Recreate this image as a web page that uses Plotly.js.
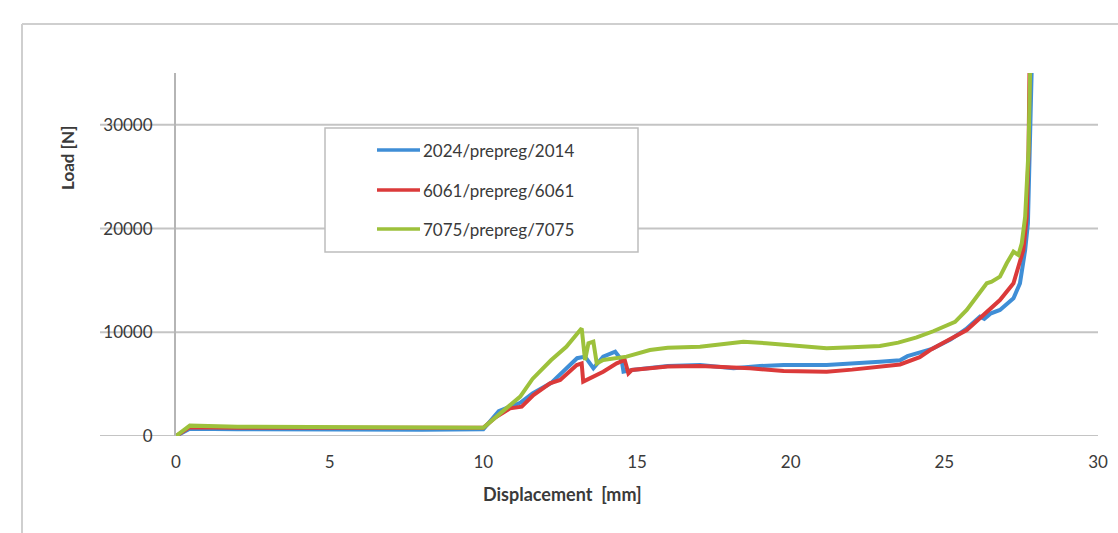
<!DOCTYPE html>
<html>
<head>
<meta charset="utf-8">
<script src="https://cdn.plot.ly/plotly-3.0.1.min.js"></script>
<style>html,body{margin:0;padding:0;background:#fff;}#chart{width:1118px;height:533px;}</style>
</head>
<body>
<div id="chart"></div>
<script>
// ---- data ----
const seriesNames = ["2024/prepreg/2014", "6061/prepreg/6061", "7075/prepreg/7075"];

const blueX = [0, 0.45, 2, 5, 8, 10, 10.5, 11.2, 11.6, 12.2, 12.7, 13.05, 13.31, 13.45, 13.58, 13.9, 14.29, 14.5, 14.56, 14.83, 15.42, 16, 17.05, 18.14, 19, 19.77, 21.17, 22, 22.9, 23.56, 23.8, 24.6, 25.2, 25.7, 26.16, 26.3, 26.5, 26.81, 27.25, 27.46, 27.63, 27.72, 27.79, 27.84];
const blueY = [0, 700, 650, 600, 600, 650, 2400, 3200, 4100, 5100, 6500, 7500, 7650, 7000, 6530, 7650, 8130, 7330, 6200, 6360, 6530, 6750, 6840, 6530, 6750, 6840, 6840, 6950, 7160, 7300, 7700, 8400, 9300, 10300, 11500, 11300, 11800, 12150, 13270, 14720, 17930, 20500, 27570, 35000];

const redX = [0, 0.45, 2, 5, 8, 10, 10.4, 10.87, 11.25, 11.63, 12.17, 12.5, 13.04, 13.2, 13.25, 13.58, 13.9, 14.34, 14.6, 14.72, 14.83, 15.42, 16, 17.05, 18.68, 19.77, 21.17, 22, 22.9, 23.56, 24.2, 24.54, 25.73, 26.81, 27.25, 27.57, 27.68, 27.74, 27.77];
const redY = [0, 850, 800, 780, 800, 800, 1800, 2670, 2830, 3950, 5080, 5400, 6840, 7000, 5240, 5750, 6200, 7000, 7330, 6040, 6360, 6530, 6700, 6750, 6530, 6270, 6200, 6400, 6680, 6900, 7600, 8290, 10220, 13110, 14720, 17930, 21140, 27570, 35000];

const greenX = [0, 0.45, 2, 5, 8, 10, 10.6, 11.2, 11.6, 12.2, 12.7, 13.2, 13.31, 13.42, 13.58, 13.69, 13.9, 14.66, 15.42, 16, 17.05, 18.46, 19.2, 20, 21.17, 22, 22.9, 23.5, 24.1, 24.64, 25.35, 25.73, 26.38, 26.54, 26.81, 27.03, 27.25, 27.41, 27.52, 27.63, 27.74, 27.79];
const greenY = [0, 1000, 900, 850, 820, 800, 2300, 3800, 5500, 7300, 8600, 10380, 7330, 8930, 9090, 7000, 7330, 7650, 8290, 8500, 8610, 9090, 8950, 8770, 8450, 8550, 8680, 9000, 9500, 10100, 11000, 12150, 14720, 14870, 15360, 16650, 17770, 17450, 18580, 21140, 27570, 35000];

const xTicks = [0, 5, 10, 15, 20, 25, 30];
const yTicks = [0, 10000, 20000, 30000];
const xTitle = "Displacement  [mm]";
const yTitle = "Load [N]";

// ---- styling ----
const colors = ["#3f8ed6", "#db3a3a", "#9dc13b"];
const FONT = "Lato, 'Open Sans', sans-serif";
const textColor = "#3a3a3a";
const gridColor = "#c4c4c4";

const W = 1118, H = 533;
const L = 176, R = 20, T = 73, B = 97;
const pw = W - L - R, ph = H - T - B;
const px = v => (v - L) / pw;          // pixel -> paper x
const py = v => (H - B - v) / ph;      // pixel -> paper y

const xs = [blueX, redX, greenX];
const ys = [blueY, redY, greenY];

const traces = seriesNames.map((n, i) => ({
  type: "scatter", mode: "lines", name: n,
  x: xs[i], y: ys[i],
  line: {color: colors[i], width: 4},
  showlegend: false, hoverinfo: "skip"
}));

const shapes = [];
// gridlines (extend left through labels, as in reference)
yTicks.forEach(t => shapes.push({
  type: "line", xref: "paper", yref: "y", x0: px(100), x1: 1, y0: t, y1: t,
  line: {color: gridColor, width: 2}, layer: "below"
}));
// outer chart-area frame (left and top edges)
shapes.push({type: "line", xref: "paper", yref: "paper", x0: px(22), x1: px(22), y0: py(24), y1: py(540), line: {color: "#cfcfcf", width: 2}});
shapes.push({type: "line", xref: "paper", yref: "paper", x0: px(22), x1: px(1125), y0: py(24), y1: py(24), line: {color: "#cfcfcf", width: 2}});
// legend box
shapes.push({type: "rect", xref: "paper", yref: "paper", x0: px(325), x1: px(638), y0: py(252), y1: py(128),
  line: {color: "#bdbdbd", width: 1.5}, fillcolor: "#ffffff", layer: "above"});

const legendRows = [150, 190, 229];
const annotations = [];
seriesNames.forEach((n, i) => {
  shapes.push({type: "line", xref: "paper", yref: "paper", x0: px(377), x1: px(420), y0: py(legendRows[i]), y1: py(legendRows[i]),
    line: {color: colors[i], width: 3.5}, layer: "above"});
  annotations.push({xref: "paper", yref: "paper", x: px(421), y: py(legendRows[i]), xanchor: "left", yanchor: "middle",
    text: n, showarrow: false, font: {family: FONT, size: 17, color: textColor}});
});
annotations.push({xref: "paper", yref: "paper", x: px(562), y: py(494), xanchor: "center", yanchor: "middle",
  text: "<b>" + xTitle + "</b>", showarrow: false, font: {family: FONT, size: 18, color: textColor}});
annotations.push({xref: "paper", yref: "paper", x: px(67), y: py(158), xanchor: "center", yanchor: "middle",
  text: "<b>" + yTitle + "</b>", textangle: -90, showarrow: false, font: {family: FONT, size: 17, color: textColor}});

const layout = {
  width: W, height: H,
  margin: {l: L, r: R, t: T, b: B, pad: 0},
  paper_bgcolor: "#ffffff", plot_bgcolor: "#ffffff",
  showlegend: false,
  font: {family: FONT, size: 17, color: textColor},
  xaxis: {
    range: [0, 30], tickvals: xTicks, ticktext: xTicks.map(String),
    showgrid: false, zeroline: false, showline: false, ticks: "",
    ticklabelstandoff: 14, tickfont: {family: FONT, size: 17, color: textColor},
    fixedrange: true
  },
  yaxis: {
    range: [0, 35000], tickvals: yTicks, ticktext: yTicks.map(String),
    showgrid: false, zeroline: false, showline: true, linecolor: "#b5b5b5", linewidth: 2,
    ticks: "", ticklabelstandoff: 18, tickfont: {family: FONT, size: 17, color: textColor},
    fixedrange: true
  },
  shapes: shapes,
  annotations: annotations
};

Plotly.newPlot("chart", traces, layout, {staticPlot: true, displayModeBar: false});
</script>
</body>
</html>
